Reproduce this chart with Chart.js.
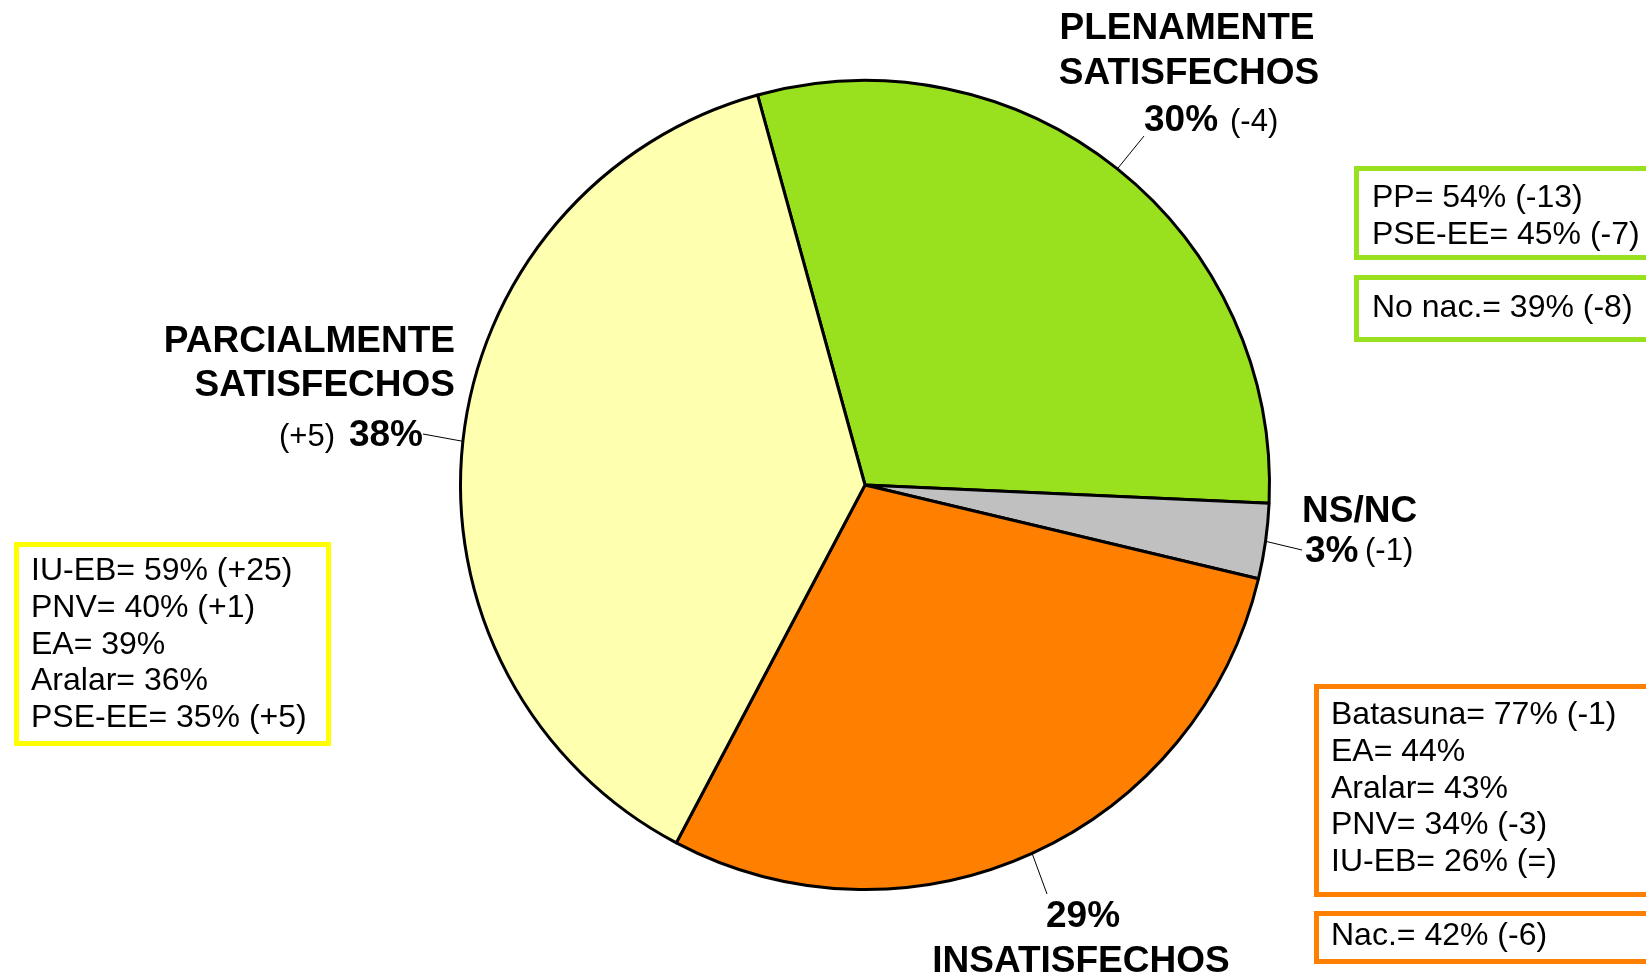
<!DOCTYPE html>
<html>
<head>
<meta charset="utf-8">
<script src="https://cdn.jsdelivr.net/npm/chart.js@4.4.0/dist/chart.umd.min.js"></script>
<style>
  html, body { margin: 0; padding: 0; background: #fff; }
  #wrap { width: 1646px; height: 977px; position: relative; }
</style>
</head>
<body>
<div id="wrap"><canvas id="satisfChart"></canvas></div>
<script>
const categories = ['PLENAMENTE SATISFECHOS', 'NS/NC', 'INSATISFECHOS', 'PARCIALMENTE SATISFECHOS'];
const shares = [30, 3, 29, 38];
const changes = ['(-4)', '(-1)', '', '(+5)'];
const sliceColors = ['#99e01f', '#c0c0c0', '#ff8000', '#ffffb0'];

const plenosByParty = ['PP= 54% (-13)', 'PSE-EE= 45% (-7)'];
const plenosNoNac = ['No nac.= 39% (-8)'];
const parcialesByParty = ['IU-EB= 59% (+25)', 'PNV= 40% (+1)', 'EA= 39%', 'Aralar= 36%', 'PSE-EE= 35% (+5)'];
const insatisByParty = ['Batasuna= 77% (-1)', 'EA= 44%', 'Aralar= 43%', 'PNV= 34% (-3)', 'IU-EB= 26% (=)'];
const insatisNac = ['Nac.= 42% (-6)'];

const FONT = '"Liberation Sans", Arial, sans-serif';

// leader line from the middle of each slice to where its label sits
function leader(ctx, arc, ex, ey) {
  const mid = (arc.startAngle + arc.endAngle) / 2;
  ctx.beginPath();
  ctx.moveTo(arc.x + Math.cos(mid) * arc.outerRadius, arc.y + Math.sin(mid) * arc.outerRadius);
  ctx.lineTo(ex, ey);
  ctx.strokeStyle = '#000';
  ctx.lineWidth = 1;
  ctx.stroke();
}

function box(ctx, x, y, w, h, color, lines, tx, firstBase) {
  ctx.strokeStyle = color;
  ctx.lineWidth = 5;
  ctx.strokeRect(x, y, w, h);
  ctx.fillStyle = '#000';
  ctx.font = '32px ' + FONT;
  ctx.textAlign = 'left';
  lines.forEach((t, i) => ctx.fillText(t, tx, firstBase + i * 36.8));
}

const labelsPlugin = {
  id: 'pieLabels',
  afterDraw(chart) {
    const ctx = chart.ctx;
    const arcs = chart.getDatasetMeta(0).data;
    const bold = 'bold 37px ' + FONT;
    const reg = '31px ' + FONT;
    ctx.save();
    ctx.textBaseline = 'alphabetic';
    ctx.fillStyle = '#000';

    // PLENAMENTE SATISFECHOS
    leader(ctx, arcs[0], 1144, 136);
    ctx.font = bold;
    ctx.textAlign = 'center';
    const t0 = categories[0].split(' ');
    ctx.fillText(t0[0], 1187, 39);
    ctx.fillText(t0[1], 1189, 84);
    ctx.textAlign = 'left';
    ctx.fillText(shares[0] + '%', 1144, 131);
    ctx.font = reg;
    ctx.fillText(changes[0], 1230, 131);

    // NS/NC
    leader(ctx, arcs[1], 1302, 550);
    ctx.font = bold;
    ctx.fillText(categories[1], 1302, 522);
    ctx.fillText(shares[1] + '%', 1305, 562);
    ctx.font = reg;
    ctx.fillText(changes[1], 1365, 560);

    // INSATISFECHOS
    leader(ctx, arcs[2], 1047, 894);
    ctx.font = bold;
    ctx.textAlign = 'center';
    ctx.fillText(shares[2] + '%', 1083, 927);
    ctx.fillText(categories[2], 1081, 972);

    // PARCIALMENTE SATISFECHOS
    leader(ctx, arcs[3], 423, 434);
    ctx.textAlign = 'right';
    const t3 = categories[3].split(' ');
    ctx.fillText(t3[0], 455, 352);
    ctx.fillText(t3[1], 455, 396);
    ctx.fillText(shares[3] + '%', 423, 446);
    ctx.font = reg;
    ctx.fillText(changes[3], 335, 446);

    // breakdown boxes
    box(ctx, 1356.5, 168.5, 320, 89, '#99e01f', plenosByParty, 1372, 207);
    box(ctx, 1356.5, 277.5, 320, 62, '#99e01f', plenosNoNac, 1372, 317);
    box(ctx, 16.5, 544.5, 312, 199, '#ffff00', parcialesByParty, 31, 580);
    box(ctx, 1316.5, 686.5, 360, 208, '#ff8000', insatisByParty, 1331, 724);
    box(ctx, 1316.5, 913.5, 360, 48, '#ff8000', insatisNac, 1331, 945);
    ctx.restore();
  }
};

new Chart(document.getElementById('satisfChart'), {
  type: 'pie',
  data: {
    labels: categories,
    datasets: [{
      data: shares,
      backgroundColor: sliceColors,
      borderColor: '#000',
      borderWidth: 3,
      hoverOffset: 0
    }]
  },
  options: {
    responsive: true,
    maintainAspectRatio: false,
    animation: false,
    rotation: -15.4,
    layout: { padding: { left: 459, right: 375, top: 79, bottom: 86 } },
    plugins: {
      legend: { display: false },
      tooltip: { enabled: false }
    }
  },
  plugins: [labelsPlugin]
});
</script>
</body>
</html>
